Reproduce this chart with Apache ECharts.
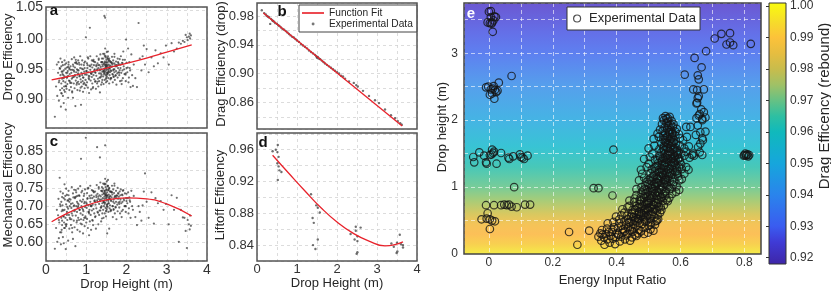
<!DOCTYPE html>
<html><head><meta charset="utf-8">
<script src="https://cdn.jsdelivr.net/npm/echarts@6/dist/echarts.min.js"></script>
<style>html,body{margin:0;padding:0;background:#fff}#c{width:831px;height:292px}</style>
</head><body><div id="c"></div>
<script>
// ---------------- DATA ----------------
// Panels a & c share the drop heights (m)
const dropHeight = [
0.22,0.25,0.27,0.28,0.30,0.31,0.32,0.33,0.34,0.35,0.36,0.36,0.37,0.38,0.38,0.39,0.39,0.40,0.40,0.40,
0.41,0.42,0.42,0.43,0.44,0.44,0.45,0.46,0.46,0.47,0.48,0.48,0.49,0.50,0.50,0.51,0.52,0.52,0.53,0.54,0.55,0.55,0.56,0.57,0.58,0.58,0.59,0.60,
0.61,0.62,0.63,0.64,0.64,0.65,0.66,0.67,0.67,0.68,0.69,0.70,0.70,0.71,0.72,0.72,0.73,0.74,0.75,0.75,0.76,0.77,0.77,0.78,0.78,0.79,0.80,0.80,
0.81,0.82,0.82,0.83,0.84,0.85,0.85,0.86,0.87,0.88,0.88,0.89,0.90,0.90,0.91,0.92,0.92,0.93,0.94,0.95,0.95,0.96,0.97,0.97,0.98,0.99,1.00,1.00,
1.01,1.02,1.02,1.03,1.04,1.05,1.05,1.06,1.07,1.08,1.08,1.09,1.10,1.10,1.11,1.12,1.12,1.13,1.14,1.15,1.15,1.16,1.17,1.17,1.18,1.19,1.20,1.20,
1.21,1.22,1.22,1.23,1.24,1.25,1.25,1.26,1.27,1.28,1.28,1.29,1.30,1.30,1.31,1.32,1.32,1.33,1.34,1.34,1.35,1.35,1.36,1.37,1.37,1.38,1.38,1.39,1.39,1.40,1.40,1.40,
1.41,1.42,1.42,1.43,1.43,1.44,1.44,1.45,1.45,1.46,1.46,1.47,1.47,1.48,1.48,1.48,1.49,1.49,1.50,1.50,1.50,1.51,1.51,1.52,1.52,1.52,1.53,1.53,1.54,1.54,1.55,1.55,1.56,1.56,1.57,1.57,1.58,1.58,1.59,1.59,1.60,1.60,1.45,1.47,
1.61,1.62,1.62,1.63,1.64,1.65,1.65,1.66,1.67,1.68,1.68,1.69,1.70,1.70,1.71,1.72,1.73,1.74,1.74,1.75,1.76,1.77,1.78,1.78,1.79,1.80,1.80,1.70,
1.81,1.82,1.83,1.84,1.85,1.86,1.87,1.88,1.89,1.90,1.91,1.92,1.93,1.95,1.96,1.98,1.99,2.00,
2.02,2.04,2.05,2.07,2.08,2.10,2.12,2.14,2.16,2.18,
2.22,2.26,2.30,2.33,2.37,2.40,2.43,2.46,2.50,2.55,
2.62,2.68,2.72,2.78,2.85,2.92,2.98,3.05,3.12,3.18,
3.25,3.30,3.35,3.40,3.44,3.47,3.50,3.52,3.55,3.57,3.58,3.60,
0.32,0.35,0.38,0.41,0.44,0.47,0.50,0.53,0.56,0.59,0.62,0.65,0.68,0.71,0.74,0.77,0.80,0.83,0.86,0.89,
0.92,0.95,0.98,1.01,1.04,1.07,1.10,1.13,1.16,1.19,1.22,1.25,1.28,1.31,1.34,1.37,1.40,1.43,1.46,1.49,
1.52,1.55,1.58,1.61,1.64,1.67,1.70,1.73,1.76,1.79,1.82,1.85,1.88,1.91,1.94,1.97,2.00,2.03,2.06,2.09,
0.45,0.52,0.58,0.63,0.69,0.75,0.84,0.93,1.03,1.11,1.18,1.27,1.33,1.39,1.44,1.47,1.51,1.53,1.56,1.62,
1.44,1.46,1.48,1.49,1.50,1.51,1.52,1.54,1.55,1.57,1.45,1.47,1.49,1.50,1.53,1.55,1.58,1.60,1.66,1.72,
0.43,0.49,0.55,0.66,0.72,0.79,0.87,0.96,1.06,1.14,1.23,1.30,1.36,1.42,1.63,1.68,1.75,1.83,1.90,1.98];
const dropEfficiency = [
0.870,0.921,0.958,0.905,0.944,0.962,0.897,0.931,0.952,0.915,0.940,0.968,0.887,0.926,0.955,0.909,0.946,0.934,0.962,0.918,
0.942,0.905,0.957,0.930,0.893,0.948,0.921,0.965,0.938,0.912,0.951,0.928,0.882,0.944,0.960,0.917,0.936,0.953,0.925,0.947,0.902,0.939,0.958,0.931,0.915,0.950,0.942,0.927,
0.955,0.920,0.944,0.967,0.934,0.911,0.949,0.902,0.958,0.937,0.926,0.946,0.970,0.918,0.940,0.953,0.888,0.931,0.962,0.945,0.924,0.950,0.936,0.915,0.959,0.941,0.929,0.965,
0.948,0.925,0.961,0.938,0.914,0.952,0.972,0.933,0.890,0.944,0.958,0.921,0.940,0.965,0.930,0.912,0.950,0.936,0.957,0.927,0.946,0.918,0.963,0.941,0.932,1.004,0.923,0.947,
0.941,0.960,0.928,0.952,0.919,0.945,0.968,0.935,0.910,0.956,0.938,1.020,0.949,0.972,0.931,0.943,0.916,0.958,0.937,0.926,0.953,0.945,0.964,0.920,0.940,0.957,0.933,0.948,
0.950,0.929,0.962,0.944,0.917,0.955,0.939,0.972,0.926,0.948,0.960,0.934,0.952,0.921,0.966,0.943,0.930,0.957,0.911,0.948,0.975,0.936,0.954,0.924,0.962,0.941,0.950,0.928,0.968,0.946,0.958,0.932,
0.955,0.938,0.968,0.947,0.925,0.960,0.942,0.976,0.951,0.932,0.963,0.946,0.985,0.954,0.940,0.970,0.928,0.958,0.948,0.966,0.936,0.953,0.979,0.944,0.961,0.930,0.957,0.942,0.972,0.950,0.935,0.963,0.947,0.958,0.926,0.968,0.952,0.940,0.964,0.945,0.956,0.933,1.040,1.037,
0.948,0.962,0.935,0.954,0.971,0.942,0.958,0.928,0.965,0.950,0.938,0.960,0.945,0.976,0.932,0.955,0.940,0.963,0.947,0.924,0.957,0.943,0.968,0.936,0.952,0.945,0.960,0.950,
0.958,0.940,0.967,0.930,0.952,0.972,0.944,0.925,0.961,0.948,0.935,0.980,0.955,0.942,0.966,0.930,1.000,0.952,
0.945,0.985,0.928,0.962,0.952,0.920,0.975,0.940,0.922,0.958,
0.935,0.920,1.028,0.968,0.948,0.972,0.990,0.958,0.984,0.945,
0.970,0.955,0.982,0.960,0.977,0.970,0.990,0.958,0.994,0.980,
0.985,0.995,0.993,0.998,0.996,1.008,1.004,0.999,1.005,1.010,1.002,1.007,
0.928,0.951,0.910,0.946,0.935,0.958,0.921,0.944,0.962,0.930,0.949,0.913,0.955,0.938,0.966,0.927,0.943,0.958,0.919,0.951,
0.936,0.961,0.924,0.947,0.970,0.933,0.955,0.942,0.918,0.963,0.945,0.957,0.929,0.968,0.950,0.938,0.962,0.947,0.973,0.955,
0.944,0.966,0.951,0.935,0.960,0.948,0.971,0.939,0.956,0.962,0.944,0.958,0.931,0.966,0.950,0.941,0.961,0.953,0.936,0.948,
0.915,0.936,0.952,0.927,0.948,0.960,0.939,0.925,0.957,0.944,0.966,0.950,0.936,0.962,0.945,0.957,0.941,0.969,0.953,0.947,
0.958,0.943,0.972,0.951,0.962,0.938,0.955,0.980,0.946,0.965,0.949,0.961,0.934,0.957,0.968,0.944,0.955,0.962,0.941,0.958,
0.940,0.922,0.954,0.936,0.961,0.948,0.928,0.952,0.939,0.965,0.930,0.957,0.943,0.976,0.961,0.937,0.955,0.948,0.960,0.943];
const mechanicalEfficiency = [
0.583,0.640,0.690,0.602,0.675,0.720,0.612,0.655,0.778,0.628,0.700,0.740,0.595,0.668,0.712,0.635,0.686,0.660,0.725,0.648,
0.702,0.615,0.735,0.672,0.598,0.722,0.655,0.760,0.690,0.640,0.728,0.668,0.582,0.705,0.748,0.650,0.684,0.731,0.662,0.715,0.605,0.693,0.742,0.676,0.638,0.720,0.700,0.664,
0.718,0.648,0.695,0.752,0.680,0.628,0.708,0.610,0.735,0.688,0.660,0.702,0.745,0.642,0.690,0.725,0.590,0.674,0.738,0.700,0.655,0.712,0.684,0.635,0.728,0.696,0.668,0.748,
0.705,0.662,0.730,0.690,0.630,0.715,0.755,0.680,0.830,0.700,0.738,0.650,0.694,0.742,0.676,0.625,0.718,0.686,0.728,0.668,0.708,0.645,0.746,0.698,0.672,0.888,0.655,0.710,
0.695,0.736,0.665,0.720,0.640,0.702,0.750,0.684,0.620,0.728,0.690,0.658,0.712,0.756,0.676,0.700,0.635,0.730,0.688,0.662,0.722,0.704,0.742,0.648,0.692,0.726,0.680,0.714,
0.716,0.670,0.740,0.704,0.638,0.725,0.694,0.758,0.862,0.712,0.734,0.682,0.720,0.650,0.748,0.706,0.676,0.730,0.834,0.714,0.765,0.688,0.727,0.658,0.742,0.700,0.718,0.666,0.752,0.708,0.732,0.680,
0.722,0.690,0.748,0.712,0.668,0.736,0.700,0.760,0.726,0.680,0.742,0.710,0.775,0.730,0.695,0.752,0.672,0.734,0.716,0.746,0.688,0.724,0.768,0.705,0.738,0.625,0.730,0.698,0.756,0.718,0.684,0.744,0.708,0.732,0.638,0.750,0.720,0.694,0.740,0.702,0.728,0.686,0.742,0.867,
0.716,0.740,0.688,0.724,0.756,0.700,0.732,0.670,0.746,0.718,0.692,0.736,0.708,0.762,0.680,0.726,0.696,0.742,0.712,0.664,0.730,0.704,0.750,0.686,0.720,0.710,0.734,0.724,
0.726,0.696,0.740,0.680,0.718,0.746,0.708,0.670,0.732,0.712,0.690,0.744,0.720,0.700,0.735,0.684,0.722,0.714,
0.708,0.738,0.680,0.724,0.716,0.668,0.742,0.700,0.690,0.728,
0.670,0.648,0.700,0.684,0.660,0.702,0.740,0.790,0.712,0.668,
0.738,0.652,0.722,0.708,0.714,0.690,0.706,0.650,0.730,0.690,
0.723,0.602,0.690,0.669,0.668,0.632,0.585,0.662,0.650,0.636,0.674,0.646,
0.662,0.705,0.628,0.690,0.672,0.718,0.645,0.698,0.730,0.668,0.706,0.640,0.724,0.686,0.744,0.660,0.700,0.728,0.652,0.712,
0.690,0.734,0.668,0.706,0.748,0.680,0.722,0.700,0.660,0.738,0.712,0.730,0.684,0.752,0.718,0.696,0.740,0.712,0.762,0.728,
0.704,0.744,0.720,0.690,0.738,0.712,0.756,0.698,0.728,0.736,0.706,0.730,0.686,0.742,0.716,0.700,0.734,0.722,0.694,0.712,
0.640,0.676,0.712,0.664,0.700,0.726,0.690,0.662,0.722,0.702,0.740,0.716,0.688,0.742,0.710,0.732,0.700,0.756,0.724,0.714,
0.734,0.706,0.760,0.722,0.744,0.692,0.728,0.772,0.714,0.748,0.720,0.738,0.686,0.730,0.754,0.708,0.726,0.740,0.700,0.728,
0.688,0.650,0.716,0.674,0.722,0.708,0.664,0.712,0.684,0.744,0.672,0.726,0.696,0.762,0.738,0.690,0.722,0.712,0.730,0.700];
// fitted curves
const aFitHeight = [0.14,0.5,1.0,1.5,2.0,2.5,3.0,3.62];
const aFitValue  = [0.932,0.937,0.944,0.952,0.960,0.969,0.979,0.991];
const cFitHeight = [0.14,0.5,1.0,1.5,2.0,2.5,3.0,3.62];
const cFitValue  = [0.657,0.679,0.702,0.717,0.723,0.720,0.706,0.673];
// Panel b
const bHeight = [0.12,0.18,0.22,0.25,0.28,0.30,0.33,0.35,0.38,0.40,0.43,0.46,0.50,0.53,0.56,0.60,0.64,0.68,0.72,0.76,0.80,0.84,0.88,0.92,0.96,1.00,1.05,1.10,1.15,1.20,1.25,1.30,1.35,1.40,1.45,1.48,1.50,1.52,1.55,1.58,1.62,1.66,1.70,1.75,1.80,1.85,1.90,1.95,2.00,2.05,2.10,2.15,2.20,2.30,2.42,2.48,2.52,2.65,2.80,2.95,3.05,3.20,3.35,3.45,3.52,3.58,3.62];
const bDragEff = [0.988,0.984,0.982,0.980,0.979,0.978,0.969,0.976,0.974,0.973,0.972,0.970,0.969,0.967,0.966,0.964,0.962,0.961,0.959,0.957,0.955,0.953,0.951,0.950,0.948,0.946,0.944,0.941,0.939,0.937,0.935,0.932,0.930,0.928,0.926,0.924,0.922,0.923,0.921,0.920,0.918,0.916,0.914,0.912,0.910,0.908,0.906,0.904,0.902,0.900,0.897,0.896,0.893,0.889,0.887,0.884,0.882,0.876,0.869,0.863,0.859,0.850,0.842,0.838,0.834,0.831,0.829];
const bFitHeight = [0.16,3.63];
const bFitValue = [0.984,0.827];
// Panel d
const dHeight = [0.39,0.52,0.51,0.54,0.51,0.54,0.61,0.52,0.56,0.47,1.35,1.39,1.42,1.48,1.52,1.57,1.40,1.46,1.52,2.34,2.47,2.59,2.47,2.51,2.44,2.51,2.51,2.49,3.36,3.50,3.57,3.51,3.49,3.65,3.65,3.60,3.42];
const dLiftoff = [0.958,0.966,0.957,0.951,0.943,0.939,0.932,0.922,0.934,0.960,0.904,0.874,0.868,0.890,0.887,0.881,0.840,0.835,0.847,0.854,0.863,0.862,0.858,0.851,0.847,0.845,0.831,0.829,0.842,0.843,0.853,0.832,0.830,0.840,0.837,0.841,0.838];
const dFitHeight = [0.39,0.8,1.2,1.6,2.0,2.4,2.8,3.2,3.65];
const dFitValue  = [0.953,0.930,0.908,0.887,0.869,0.855,0.845,0.839,0.844];
// Panel e: [energy input ratio, drop height]
const eLowEnergy = [
[0.000,3.62],[0.006,3.63],[0.017,3.55],[0.022,3.54],[-0.004,3.46],[0.003,3.45],[0.010,3.46],[0.014,3.49],[0.012,3.32],[0.006,3.54],[0.008,3.44],
[-0.009,2.49],[-0.002,2.50],[0.006,2.46],[0.015,2.51],[0.019,2.45],[0.027,2.44],[0.031,2.56],[0.003,2.38],[0.017,2.32],[0.023,2.42],[0.010,2.40],[0.071,2.66],[0.012,2.47],
[-0.049,1.45],[-0.046,1.37],[-0.030,1.52],[-0.015,1.47],[-0.009,1.37],[-0.007,1.35],[0.010,1.56],[0.016,1.53],[0.003,1.48],[0.008,1.49],[0.024,1.35],[0.038,1.51],[0.064,1.42],[0.061,1.44],[0.076,1.46],[0.097,1.49],[0.105,1.44],[0.110,1.42],[0.121,1.47],[0.100,1.45],[0.013,1.51],
[-0.009,0.73],[0.016,0.73],[0.038,0.73],[0.048,0.74],[0.056,0.73],[0.063,0.74],[0.071,0.71],[0.087,0.70],[0.113,0.74],[0.129,0.74],[0.079,1.00],
[-0.023,0.52],[-0.007,0.53],[0.003,0.52],[0.010,0.50],[0.019,0.49],[-0.004,0.61],[0.003,0.375]];
const eScattered = [[0.251,0.33],[0.277,0.14],[0.314,0.35],[0.328,0.985],[0.343,0.985],[0.387,0.875],[0.390,1.56],
[0.800,1.48],[0.805,1.47],[0.810,1.49],[0.803,1.50],[0.812,1.46],[0.807,1.48],[0.798,1.47],[0.815,1.48]];
const eUpperArm = [[0.545,2.03],[0.662,1.82],[0.678,1.83],[0.654,1.92],[0.668,2.00],[0.660,2.09],[0.673,2.12],[0.665,2.16],[0.652,2.26],[0.657,2.36],[0.673,2.46],[0.652,2.45],[0.640,2.46],[0.657,2.61],[0.654,2.67],[0.666,2.79],[0.613,2.68],[0.644,2.93],[0.680,3.03],[0.707,3.22],[0.728,3.29],[0.755,3.30],[0.744,3.13],[0.755,3.16],[0.765,3.12],[0.820,3.14],[0.654,2.33],[0.650,2.25],[0.657,2.07],[0.678,2.04],[0.650,2.03],[0.668,2.02],[0.668,1.73],[0.618,1.90],[0.631,1.90],[0.636,1.48],[0.642,1.47],[0.655,1.60],[0.662,1.65],[0.670,1.70],[0.648,1.78],[0.660,1.52],[0.668,1.48],[0.620,1.75]];
const eBand = [
[0.362,0.14],[0.378,0.17],[0.395,0.15],[0.352,0.20],[0.371,0.22],[0.410,0.19],[0.426,0.22],[0.442,0.20],[0.388,0.23],
[0.343,0.26],[0.360,0.25],[0.381,0.27],[0.398,0.25],[0.414,0.26],[0.430,0.28],[0.448,0.25],[0.462,0.27],[0.405,0.29],
[0.349,0.31],[0.366,0.30],[0.385,0.33],[0.401,0.31],[0.418,0.32],[0.433,0.30],[0.450,0.33],[0.468,0.31],[0.486,0.30],[0.498,0.32],[0.425,0.34],[0.442,0.35],
[0.354,0.36],[0.370,0.38],[0.388,0.36],[0.404,0.39],[0.420,0.37],[0.436,0.40],[0.452,0.38],[0.470,0.36],[0.488,0.39],[0.506,0.37],[0.515,0.35],[0.415,0.42],[0.445,0.41],[0.462,0.43],[0.430,0.44],
[0.372,0.46],[0.390,0.48],[0.408,0.46],[0.424,0.49],[0.440,0.47],[0.456,0.50],[0.472,0.46],[0.490,0.48],[0.508,0.47],[0.522,0.49],[0.436,0.52],[0.466,0.53],[0.452,0.55],[0.485,0.52],
[0.398,0.56],[0.415,0.58],[0.432,0.57],[0.448,0.60],[0.462,0.58],[0.478,0.61],[0.494,0.57],[0.510,0.60],[0.528,0.58],[0.536,0.62],[0.470,0.63],[0.500,0.64],
[0.418,0.67],[0.434,0.70],[0.450,0.66],[0.466,0.69],[0.480,0.72],[0.494,0.68],[0.508,0.71],[0.522,0.67],[0.538,0.70],[0.548,0.73],[0.472,0.75],[0.500,0.76],[0.515,0.74],[0.486,0.65],[0.530,0.77],
[0.440,0.80],[0.456,0.83],[0.472,0.81],[0.486,0.84],[0.498,0.80],[0.512,0.86],[0.526,0.82],[0.540,0.85],[0.556,0.81],[0.565,0.84],[0.462,0.88],[0.490,0.90],[0.505,0.88],[0.520,0.91],[0.535,0.89],[0.550,0.92],[0.574,0.90],[0.478,0.92],
[0.462,0.97],[0.478,1.00],[0.494,0.96],[0.508,0.99],[0.520,1.02],[0.534,0.97],[0.546,1.00],[0.558,1.03],[0.572,0.98],[0.588,1.01],[0.596,0.96],[0.500,1.05],[0.528,1.06],[0.552,1.07],[0.515,0.94],
[0.470,1.10],[0.486,1.14],[0.500,1.11],[0.514,1.16],[0.526,1.12],[0.540,1.15],[0.552,1.10],[0.564,1.17],[0.578,1.13],[0.592,1.16],[0.604,1.12],[0.480,1.20],[0.506,1.21],[0.532,1.22],[0.558,1.21],[0.584,1.23],[0.612,1.20],[0.545,1.19],
[0.476,1.26],[0.494,1.30],[0.510,1.27],[0.524,1.31],[0.538,1.28],[0.550,1.33],[0.562,1.27],[0.574,1.32],[0.588,1.29],[0.602,1.34],[0.618,1.30],[0.625,1.26],[0.530,1.36],[0.556,1.37],[0.582,1.36],[0.500,1.35],
[0.486,1.42],[0.504,1.45],[0.520,1.41],[0.534,1.47],[0.546,1.43],[0.558,1.48],[0.570,1.42],[0.582,1.46],[0.596,1.43],[0.612,1.47],[0.628,1.44],[0.640,1.50],[0.540,1.52],[0.566,1.53],[0.590,1.51],[0.512,1.50],[0.618,1.53],
[0.500,1.58],[0.518,1.62],[0.534,1.57],[0.548,1.61],[0.560,1.58],[0.572,1.63],[0.584,1.59],[0.598,1.62],[0.612,1.58],[0.626,1.61],[0.555,1.66],[0.578,1.67],[0.540,1.65],
[0.516,1.72],[0.532,1.75],[0.546,1.71],[0.558,1.76],[0.570,1.72],[0.584,1.77],[0.598,1.73],[0.608,1.70],[0.528,1.80],[0.552,1.81],[0.575,1.80],[0.595,1.79],
[0.536,1.86],[0.550,1.89],[0.563,1.85],[0.576,1.90],[0.588,1.87],[0.542,1.94],[0.556,1.96],[0.569,1.93],[0.548,2.00],[0.560,2.03],[0.572,1.99],[0.553,2.06],[0.566,2.05]];
const eBandCore = [
[0.438,0.48],[0.452,0.45],[0.466,0.49],[0.480,0.45],[0.494,0.50],[0.446,0.56],[0.460,0.54],[0.476,0.57],[0.490,0.55],[0.504,0.53],[0.518,0.55],[0.456,0.62],[0.470,0.60],[0.486,0.62],[0.500,0.59],[0.514,0.63],[0.526,0.65],
[0.462,0.72],[0.476,0.70],[0.490,0.74],[0.504,0.69],[0.518,0.73],[0.532,0.71],[0.486,0.78],[0.502,0.80],[0.516,0.78],[0.530,0.81],[0.544,0.79],[0.476,0.85],[0.494,0.86],[0.508,0.83],[0.524,0.87],[0.538,0.84],[0.552,0.87],
[0.482,0.95],[0.498,0.93],[0.512,0.97],[0.526,0.94],[0.540,0.96],[0.554,0.94],[0.566,0.97],[0.490,1.02],[0.506,1.04],[0.520,1.00],[0.534,1.03],[0.548,1.05],[0.562,1.01],[0.576,1.04],
[0.494,1.08],[0.510,1.09],[0.524,1.07],[0.538,1.09],[0.552,1.13],[0.566,1.09],[0.580,1.08],[0.518,1.18],[0.532,1.16],[0.546,1.18],[0.560,1.15],[0.574,1.19],[0.590,1.20],
[0.520,1.24],[0.534,1.23],[0.548,1.26],[0.562,1.23],[0.576,1.26],[0.590,1.24],[0.528,1.32],[0.542,1.34],[0.556,1.30],[0.570,1.34],[0.584,1.32],[0.596,1.30],
[0.528,1.40],[0.542,1.39],[0.556,1.41],[0.570,1.38],[0.584,1.40],[0.598,1.39],[0.552,1.45],[0.566,1.47],[0.578,1.44],[0.592,1.48],[0.550,1.50],[0.576,1.50],[0.602,1.50],
[0.548,1.55],[0.562,1.54],[0.576,1.56],[0.590,1.55],[0.556,1.60],[0.568,1.61],[0.586,1.64],[0.552,1.68],[0.566,1.69],[0.580,1.70],[0.560,1.74],[0.574,1.75],[0.546,1.77],[0.564,1.82],[0.584,1.83],[0.558,1.88],[0.570,1.86],[0.562,1.92],[0.556,2.02],
[0.356,0.29],[0.392,0.40],[0.376,0.33],[0.458,0.29],[0.476,0.34],[0.500,0.42],[0.520,0.44],[0.530,0.52],[0.408,0.52],[0.424,0.62],[0.440,0.72],[0.455,0.78],
[0.470,0.52],[0.484,0.58],[0.498,0.66],[0.512,0.68],[0.524,0.76],[0.496,0.76],[0.510,0.92],[0.530,0.92],[0.544,0.90],[0.518,1.05],[0.540,1.01],[0.554,1.11],[0.528,1.13],[0.542,1.21],[0.568,1.21],[0.552,1.36],[0.566,1.28],[0.580,1.37],[0.560,1.43],[0.574,1.42],[0.546,1.58],[0.580,1.58],[0.572,1.66],[0.552,1.73],[0.566,1.79],[0.578,1.94],[0.560,1.98],[0.503,0.84],[0.488,0.97],[0.505,1.13],[0.520,1.29],[0.536,1.44],[0.592,1.42],[0.604,1.27],[0.596,1.10],[0.586,0.93],[0.560,0.79],[0.540,0.66],[0.526,0.50],[0.506,0.44],[0.458,0.66],[0.474,0.79],[0.490,0.68],[0.534,1.17],[0.548,1.32],[0.562,1.49],[0.588,1.53],[0.560,1.65],[0.574,1.81],[0.544,1.84]];
// Tick labels
const aYTicks = ['0.90','0.95','1.00','1.05'];
const cYTicks = ['0.60','0.65','0.70','0.75','0.80','0.85'];
const bYTicks = ['0.86','0.90','0.94','0.98'];
const dYTicks = ['0.84','0.88','0.92','0.96'];
const heightTicks = ['0','1','2','3','4'];
const eXTicks = ['0','0.2','0.4','0.6','0.8'];
const eYTicks = ['0','1','2','3'];
const cbTicks = ['0.92','0.93','0.94','0.95','0.96','0.97','0.98','0.99','1.00'];
// axis extents
const eXRange = [-0.078, 0.852];
const eYRange = [0, 3.75];
const cbRange = [0.918, 1.001];

// --------------- STYLE ---------------
const FONT = '"Liberation Sans", Arial, Helvetica, sans-serif';
const TXT = '#262626';
const cbStopVals = [0.918,0.925,0.93,0.94,0.95,0.96,0.965,0.97,0.975,0.98,0.985,0.99,0.995,1.001];
const cbStopCols = ['#3e26a8','#3f3bd6','#3a5cf0','#2a84ec','#16a6dc','#10b9bc','#2ebfa2','#66c184','#a0c166','#c8bc4c','#e6bd40','#fcc23a','#f6dc2a','#f9fb0e'];
const bgHeights = [3.75,3.3,3.0,2.5,2.0,1.6,1.3,1.0,0.8,0.6,0.45,0.3,0.15,0];
const bgColors  = ['#6b58d2','#6470e8','#5e80f0','#55a0ec','#45b4e4','#38c4d4','#48c8b8','#78cc98','#a8cc78','#d8c860','#f4c458','#fcc058','#f8d050','#f4ec48'];

function fmt(list, dec) {
  return v => { const s = dec == null ? String(+v.toFixed(3)) : v.toFixed(dec); return list.includes(s) ? s : ''; };
}
function gridOf(r, color, w) { return Object.assign({show:true, borderColor:color||'#555', borderWidth:w||1.5, backgroundColor:'transparent', z:10}, r); }
const greySplit = {show:true, lineStyle:{color:'#d4d4d4', type:[3,3], width:0.8}};
const whiteSplit = {show:true, lineStyle:{color:'rgba(255,255,255,0.6)', type:[4,3], width:1}};
function xH(gi, showLabels, name) {
  return {type:'value', gridIndex:gi, min:0, max:4, interval:0.5,
    axisLine:{show:false}, axisTick:{show:false}, splitLine:greySplit,
    axisLabel:{show:showLabels, formatter:fmt(heightTicks), fontSize:gi===2?14:13, color:'#333', fontFamily:FONT, margin:2},
    name:name||'', nameLocation:'middle', nameGap:15, nameTextStyle:{fontSize:13, color:TXT, fontFamily:FONT}};
}
function yV(gi, min, max, split, ticks, fs) {
  return {type:'value', gridIndex:gi, min:min, max:max, splitNumber:split,
    axisLine:{show:false}, axisTick:{show:false}, splitLine:greySplit,
    axisLabel:{formatter:fmt(ticks,2), fontSize:fs, color:'#333', fontFamily:FONT, margin:3, showMinLabel:true, showMaxLabel:true}};
}
const dotStyle = {color:'rgba(45,45,45,0.85)'};
const fitStyle = {color:'#e8222b', width:1.3};
const zip = (xs, ys) => xs.map((x,i)=>[x, ys[i]]);

const option = {
  animation:false,
  textStyle:{fontFamily:FONT},
  grid:[
    gridOf({left:46, top:3, width:161, height:125}),
    gridOf({left:257, top:3, width:160, height:126}),
    gridOf({left:46, top:133, width:161, height:129}),
    gridOf({left:257, top:133, width:160, height:128}),
    gridOf({left:464, top:3, width:297, height:260}, '#444', 1.5),
    gridOf({left:769, top:3, width:17, height:261}, '#333', 1)
  ],
  xAxis:[
    xH(0,false), xH(1,false), xH(2,true,'Drop Height (m)'), xH(3,true,'Drop Height (m)'),
    {type:'value', gridIndex:4, min:eXRange[0], max:eXRange[1], splitNumber:9, z:5,
      axisLine:{show:false}, axisTick:{show:false}, splitLine:whiteSplit,
      axisLabel:{formatter:fmt(eXTicks), fontSize:12, color:'#333', fontFamily:FONT, margin:3},
      name:'Energy Input Ratio', nameLocation:'middle', nameGap:14, nameTextStyle:{fontSize:13, color:TXT, fontFamily:FONT}},
    {type:'value', gridIndex:5, min:0, max:1, show:false}
  ],
  yAxis:[
    yV(0, 0.851, 1.055, 4, aYTicks, 14),
    yV(1, 0.823, 0.998, 8, bYTicks, 13),
    yV(2, 0.549, 0.901, 7, cYTicks, 14),
    yV(3, 0.820, 0.981, 8, dYTicks, 13),
    {type:'value', gridIndex:4, min:eYRange[0], max:eYRange[1], splitNumber:8, z:5,
      axisLine:{show:false}, axisTick:{show:false}, splitLine:whiteSplit,
      axisLabel:{formatter:fmt(eYTicks), fontSize:12, color:'#333', fontFamily:FONT, margin:6}},
    {type:'value', gridIndex:5, min:cbRange[0], max:cbRange[1], splitNumber:8, position:'right', z:12,
      axisLine:{show:false}, splitLine:{show:false},
      axisTick:{show:true, inside:true, length:3, lineStyle:{color:'#333'}},
      axisLabel:{formatter:fmt(cbTicks,2), fontSize:12, color:'#333', fontFamily:FONT, margin:4}}
  ],
  legend:[
    {left:299, top:5, orient:'vertical', itemGap:1, itemWidth:22, itemHeight:9, padding:[3,4,3,3],
     backgroundColor:'#fff', borderColor:'#444', borderWidth:1, z:20,
     textStyle:{fontSize:10.2, color:TXT, fontFamily:FONT},
     data:[{name:'Function Fit', icon:'path://M0,3.6L24,3.6L24,5.4L0,5.4ZM0,0L0,0M24,9L24,9', itemStyle:{color:'#e8222b'}},
           {name:'Experimental Data', icon:'path://M0,0L0,0M24,9L24,9M10.5,4.5a1.6,1.6,0,1,0,3.2,0a1.6,1.6,0,1,0,-3.2,0Z', itemStyle:{color:'#555'}}]},
    {left:567, top:7, orient:'horizontal', itemWidth:14, itemHeight:7, padding:[5,4,5,6],
     backgroundColor:'#fff', borderColor:'#333', borderWidth:1, z:20,
     textStyle:{fontSize:13, color:TXT, fontFamily:FONT},
     data:[{name:'Experimental Data', icon:'circle', itemStyle:{color:'rgba(0,0,0,0)', borderColor:'#222', borderWidth:1.2}}]}
  ],
  series:[
    {type:'scatter', xAxisIndex:0, yAxisIndex:0, symbolSize:2.2, itemStyle:dotStyle, data:zip(dropHeight, dropEfficiency), z:3},
    {type:'line', xAxisIndex:0, yAxisIndex:0, smooth:true, symbol:'none', lineStyle:fitStyle, data:zip(aFitHeight, aFitValue), z:4},
    {type:'scatter', name:'Experimental Data', xAxisIndex:1, yAxisIndex:1, symbolSize:2.4, itemStyle:dotStyle, data:zip(bHeight, bDragEff), z:3},
    {type:'line', name:'Function Fit', xAxisIndex:1, yAxisIndex:1, symbol:'none', lineStyle:fitStyle, itemStyle:{color:'#e8222b'}, data:zip(bFitHeight, bFitValue), z:4},
    {type:'scatter', xAxisIndex:2, yAxisIndex:2, symbolSize:2.2, itemStyle:dotStyle, data:zip(dropHeight, mechanicalEfficiency), z:3},
    {type:'line', xAxisIndex:2, yAxisIndex:2, smooth:true, symbol:'none', lineStyle:fitStyle, data:zip(cFitHeight, cFitValue), z:4},
    {type:'scatter', xAxisIndex:3, yAxisIndex:3, symbolSize:2.4, itemStyle:dotStyle, data:zip(dHeight, dLiftoff), z:3},
    {type:'line', xAxisIndex:3, yAxisIndex:3, smooth:0.5, symbol:'none', lineStyle:fitStyle, data:zip(dFitHeight, dFitValue), z:4},
    {type:'custom', xAxisIndex:4, yAxisIndex:4, z:1, silent:true, data:[[eXRange[0], eYRange[0]]],
      renderItem:(params, api) => {
        const p0 = api.coord([eXRange[0], eYRange[1]]), p1 = api.coord([eXRange[1], eYRange[0]]);
        const span = eYRange[1]-eYRange[0];
        const stops = bgHeights.map((h,i)=>({offset:(eYRange[1]-h)/span, color:bgColors[i]}));
        return {type:'rect', shape:{x:p0[0], y:p0[1], width:p1[0]-p0[0], height:p1[1]-p0[1]},
                style:{fill:new echarts.graphic.LinearGradient(0,0,0,1,stops)}};
      }},
    {type:'scatter', name:'Experimental Data', xAxisIndex:4, yAxisIndex:4, symbol:'circle', symbolSize:7.5, z:6,
      itemStyle:{color:'rgba(0,0,0,0)', borderColor:'#141414', borderWidth:1.2},
      data:[].concat(eLowEnergy, eScattered, eUpperArm, eBand, eBandCore)},
    {type:'custom', xAxisIndex:5, yAxisIndex:5, z:1, silent:true, data:[[0, cbRange[0]]],
      renderItem:(params, api) => {
        const p0 = api.coord([0, cbRange[1]]), p1 = api.coord([1, cbRange[0]]);
        const span = cbRange[1]-cbRange[0];
        const stops = cbStopVals.map((v,i)=>({offset:(cbRange[1]-v)/span, color:cbStopCols[i]}));
        return {type:'rect', shape:{x:p0[0], y:p0[1], width:p1[0]-p0[0], height:p1[1]-p0[1]},
                style:{fill:new echarts.graphic.LinearGradient(0,0,0,1,stops)}};
      }}
  ],
  graphic:[
    {type:'text', x:54, y:11, z:30, style:{text:'a', font:'bold 15px '+FONT, fill:'#111', align:'center', verticalAlign:'middle'}},
    {type:'text', x:282, y:12, z:30, style:{text:'b', font:'bold 15px '+FONT, fill:'#111', align:'center', verticalAlign:'middle'}},
    {type:'text', x:54, y:142, z:30, style:{text:'c', font:'bold 15px '+FONT, fill:'#111', align:'center', verticalAlign:'middle'}},
    {type:'text', x:263, y:143, z:30, style:{text:'d', font:'bold 15px '+FONT, fill:'#111', align:'center', verticalAlign:'middle'}},
    {type:'text', x:471, y:14, z:30, style:{text:'e', font:'bold 15px '+FONT, fill:'#fff', align:'center', verticalAlign:'middle'}},
    {type:'text', x:8, y:57, rotation:Math.PI/2, z:30, style:{text:'Drop Efficiency', font:'13px '+FONT, fill:TXT, align:'center', verticalAlign:'middle'}},
    {type:'text', x:8, y:185, rotation:Math.PI/2, z:30, style:{text:'Mechanical Efficiency', font:'13px '+FONT, fill:TXT, align:'center', verticalAlign:'middle'}},
    {type:'text', x:221, y:64, rotation:Math.PI/2, z:30, style:{text:'Drag Efficiency (drop)', font:'13px '+FONT, fill:TXT, align:'center', verticalAlign:'middle'}},
    {type:'text', x:220, y:195, rotation:Math.PI/2, z:30, style:{text:'Liftoff Efficiency', font:'13px '+FONT, fill:TXT, align:'center', verticalAlign:'middle'}},
    {type:'text', x:442, y:127, rotation:Math.PI/2, z:30, style:{text:'Drop height (m)', font:'13px '+FONT, fill:TXT, align:'center', verticalAlign:'middle'}},
    {type:'text', x:825, y:106, rotation:Math.PI/2, z:30, style:{text:'Drag Efficency (rebound)', font:'15px '+FONT, fill:TXT, align:'center', verticalAlign:'middle'}}
  ]
};
const chart = echarts.init(document.getElementById('c'), null, {renderer:'canvas'});
chart.setOption(option);
</script></body></html>
